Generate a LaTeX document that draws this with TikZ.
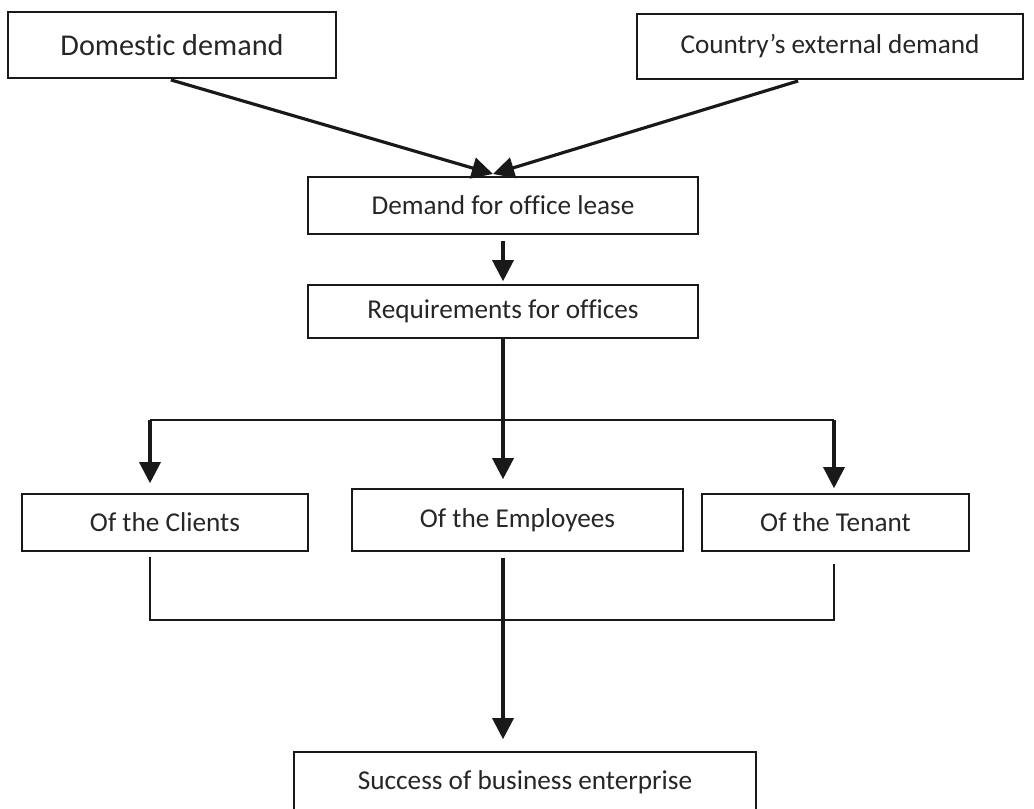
\documentclass[tikz,border=0pt]{standalone}
\usepackage{fontspec}
\setmainfont{Carlito}[Ligatures=NoCommon]
\usetikzlibrary{arrows.meta, positioning}
\tikzstyle{block} = [draw=black!90, line width=0.9pt, inner sep=0pt, text centered, text=black!85, font=\fontsize{15.5}{18}\selectfont]
\tikzstyle{arrow} = [black!90, line width=1.8pt, -{Triangle[width=12pt,length=12pt]}]

\begin{document}
\begin{tikzpicture}[
    x=0.02cm, y=-0.02cm,
    link/.style={black!90, line width=0.8pt}
]
\clip (0,0) rectangle (1034,808);

% Nodes
\node (domestic) [block, minimum width=6.56cm, minimum height=1.32cm, font=\fontsize{17.2}{20}\selectfont] at (172,45) {Domestic demand};
\node (external) [block, minimum width=7.72cm, minimum height=1.30cm] at (830,46.5) {Country’s external demand};
\node (lease) [block, minimum width=7.8cm, minimum height=1.14cm] at (503,205.5) {Demand for office lease};
\node (require) [block, minimum width=7.8cm, minimum height=1.06cm] at (503,311.5) {Requirements for offices};
\node (clients) [block, minimum width=5.72cm, minimum height=1.14cm] at (165,522.5) {Of the Clients};
\node (employees) [block, minimum width=6.62cm, minimum height=1.24cm] at (517.5,520) {Of the Employees};
\node (tenant) [block, minimum width=5.34cm, minimum height=1.14cm] at (835.5,522.5) {Of the Tenant};
\node (success) [block, minimum width=9.24cm, minimum height=1.2cm] at (525,782) {Success of business enterprise};

% Branch points
\coordinate (meet) at (493,174);
\coordinate (splitL) at (150,420);
\coordinate (splitR) at (834,420);
\coordinate (joinL) at (150,620);
\coordinate (joinR) at (834,620);

% Arrows
\draw [arrow, shorten <=0.08cm] ([xshift=-0.1cm]domestic.south) -- (meet);
\draw [arrow, shorten <=0.08cm] ([xshift=-0.56cm]external.south) -- (meet);
\draw [arrow, shorten <=0.12cm, shorten >=0.06cm] (lease.south) -- (require.north);
\draw [arrow, shorten >=0.18cm] (require.south) -- (require.south |- employees.north);
\draw [link] (splitL) -- (splitR);
\draw [arrow, shorten >=0.2cm] (splitL) -- (splitL |- clients.north);
\draw [arrow, shorten >=0.1cm] (splitR) -- (splitR |- tenant.north);
\draw [link, shorten <=0.1cm, shorten >=0.24cm] (joinL |- clients.south) -- (joinL) -- (joinR) -- (joinR |- tenant.south);
\draw [arrow, shorten <=0.12cm, shorten >=0.24cm] (require.south |- employees.south) -- (require.south |- success.north);

\end{tikzpicture}
\end{document}
